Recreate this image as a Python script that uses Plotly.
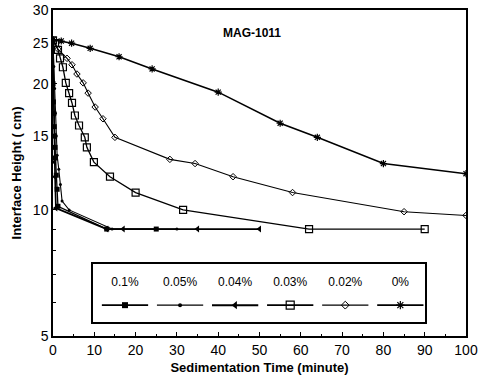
import plotly.graph_objects as go

# ---- data ----
series_names = ["0.1%", "0.05%", "0.04%", "0.03%", "0.02%", "0%"]

t_01 = [0, 0.1, 0.2, 0.3, 0.4, 0.5, 0.6, 0.8, 1.0, 1.2, 13, 25]
h_01 = [20, 18.1, 17.0, 15.8, 15.0, 14.1, 13.3, 12.1, 11.2, 10.2, 9.0, 9.0]

t_005 = [0, 0.2, 0.4, 0.6, 0.8, 1.0, 1.4, 1.8, 2.2, 3.9, 14.3, 30]
h_005 = [25, 22, 19.5, 17, 15, 13.5, 12.5, 11.5, 10.5, 10.0, 9.0, 9.0]

t_004 = [0, 0.1, 0.2, 0.3, 0.4, 0.5, 0.7, 13, 17, 35, 50]
h_004 = [25, 20, 17, 15, 13, 12, 10.1, 9.0, 9.0, 9.0, 9.0]

t_003 = [0, 0.5, 1.2, 1.7, 2.4, 3.1, 3.9, 4.6, 5.3, 6.3, 7.7, 8.2, 9.9, 13.8, 20, 31.5, 62, 90]
h_003 = [25.4, 25.0, 24.1, 23.0, 21.9, 20.1, 19.0, 18.0, 16.8, 15.9, 14.9, 14.1, 13.0, 12.0, 11.0, 10.0, 9.0, 9.0]

t_002 = [0, 1.2, 3.4, 4.6, 5.8, 7.3, 8.5, 10.2, 12.1, 15, 28.3, 34.4, 43.6, 58, 85, 100]
h_002 = [25.4, 24.2, 23.0, 22.2, 21.1, 20.1, 19.0, 17.6, 16.5, 14.9, 13.2, 12.9, 12.0, 11.0, 9.9, 9.7]

t_0 = [0, 2, 4.5, 9, 16, 24, 40, 55, 64, 80, 100]
h_0 = [25.5, 25.3, 25.0, 24.3, 23.2, 21.7, 19.1, 16.1, 14.9, 12.9, 12.2]

times = [t_01, t_005, t_004, t_003, t_002, t_0]
heights = [h_01, h_005, h_004, h_003, h_002, h_0]

y_tick_vals = [5, 10, 15, 20, 25, 30]
y_minor_vals = [6, 7, 8, 9]
x_tick_vals = [0, 10, 20, 30, 40, 50, 60, 70, 80, 90, 100]

# ---- styles ----
styles = [
    dict(symbol="square", size=5, lw=1.3, mlw=0),
    dict(symbol="circle", size=3, lw=1.1, mlw=0),
    dict(symbol="triangle-left", size=6, lw=1.7, mlw=0),
    dict(symbol="square-open", size=7, lw=1.3, mlw=1.2),
    dict(symbol="diamond-open", size=5, lw=1.1, mlw=1.0),
    dict(symbol="asterisk-open", size=6, lw=1.6, mlw=1.2),
]

FONT = "Liberation Sans"
fig = go.Figure()

for name, t, h, st in zip(series_names, times, heights, styles):
    fig.add_trace(go.Scatter(
        x=t, y=h, mode="lines+markers", name=name, showlegend=False,
        line=dict(color="black", width=st["lw"]),
        marker=dict(symbol=st["symbol"], size=st["size"], color="black",
                    line=dict(color="black", width=st["mlw"])),
    ))

# ---- custom legend box (labels above line samples) ----
idx = list(range(len(series_names)))
for i, st in zip(idx, styles):
    fig.add_trace(go.Scatter(
        x=[i - 0.42, i + 0.42], y=[0.29, 0.29], xaxis="x2", yaxis="y2",
        mode="lines", showlegend=False, hoverinfo="skip",
        line=dict(color="black", width=st["lw"] + 0.3),
    ))
    fig.add_trace(go.Scatter(
        x=[i], y=[0.29], xaxis="x2", yaxis="y2", mode="markers",
        showlegend=False, hoverinfo="skip",
        marker=dict(symbol=st["symbol"], size=st["size"] + 1, color="black",
                    line=dict(color="black", width=st["mlw"])),
    ))
fig.add_trace(go.Scatter(
    x=idx, y=[0.68] * len(idx), xaxis="x2", yaxis="y2", mode="text",
    text=series_names, showlegend=False, hoverinfo="skip",
    textfont=dict(family=FONT, size=12, color="black"),
))

fig.update_layout(
    width=478, height=387,
    margin=dict(l=53, r=12, t=10, b=51, autoexpand=False),
    paper_bgcolor="white", plot_bgcolor="white",
    font=dict(family=FONT, color="black"),
    xaxis=dict(
        range=[0, 100], tickvals=x_tick_vals, ticks="inside", ticklen=4,
        tickwidth=1, tickcolor="black", automargin=False,
        minor=dict(dtick=5, ticks="inside", ticklen=2, tickcolor="black"),
        showline=True, linecolor="black", linewidth=1.5, mirror=True,
        showgrid=False, zeroline=False,
        tickfont=dict(family=FONT, size=14, color="black"),
        title=dict(text="<b>Sedimentation Time (minute)</b>",
                   font=dict(family=FONT, size=13), standoff=6),
    ),
    yaxis=dict(
        type="log", range=[0.69897, 1.47712], automargin=False,
        tickvals=y_tick_vals, ticktext=[str(v) for v in y_tick_vals],
        ticks="inside", ticklen=4, tickcolor="black",
        minor=dict(tickvals=y_minor_vals, ticks="inside", ticklen=3, tickcolor="black"),
        showline=True, linecolor="black", linewidth=1.5, mirror=True,
        showgrid=False, zeroline=False,
        tickfont=dict(family=FONT, size=14, color="black"),
        title=dict(text="<b>Interface Height ( cm)</b>",
                   font=dict(family=FONT, size=13), standoff=8),
    ),
    xaxis2=dict(
        domain=[0.097, 0.901], anchor="y2", range=[-0.58, 5.45],
        showline=True, mirror=True, linecolor="black", linewidth=1.5,
        showticklabels=False, ticks="", showgrid=False, zeroline=False,
    ),
    yaxis2=dict(
        domain=[0.043, 0.221], anchor="x2", range=[0, 1],
        showline=True, mirror=True, linecolor="black", linewidth=1.5,
        showticklabels=False, ticks="", showgrid=False, zeroline=False,
    ),
    annotations=[dict(
        text="<b>MAG-1011</b>", x=0.482, y=0.957, xref="paper", yref="paper",
        showarrow=False, font=dict(family=FONT, size=12, color="black"),
    )],
)

fig.write_html("out.html")
